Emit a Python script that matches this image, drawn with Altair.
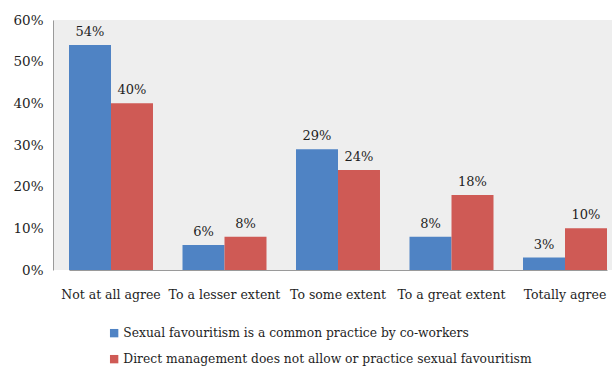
import altair as alt
import pandas as pd

categories = ["Not at all agree", "To a lesser extent", "To some extent", "To a great extent", "Totally agree"]
series = ["Sexual favouritism is a common practice by co-workers",
          "Direct management does not allow or practice sexual favouritism"]
values_a = [0.54, 0.06, 0.29, 0.08, 0.03]
values_b = [0.40, 0.08, 0.24, 0.18, 0.10]
colors = ["#4f83c4", "#cf5a55"]

rows = []
for c, a, b in zip(categories, values_a, values_b):
    rows.append({"cat": c, "series": series[0], "v": a})
    rows.append({"cat": c, "series": series[1], "v": b})
df = pd.DataFrame(rows)

FONT = "DejaVu Serif"
TXT = "#1e1e1e"

x = alt.X("cat:N", sort=categories, title=None,
          scale=alt.Scale(range=[16, 554], paddingInner=0.26, paddingOuter=0),
          axis=alt.Axis(labelAngle=0, ticks=False, labelPadding=18, domainColor="#9a9a9a",
                        labelFont=FONT, labelFontSize=12.5, labelColor=TXT))
y = alt.Y("v:Q", title=None,
          scale=alt.Scale(domain=[0, 0.6]),
          axis=alt.Axis(format=".0%", values=[0, 0.1, 0.2, 0.3, 0.4, 0.5, 0.6], grid=False, ticks=False,
                        labelPadding=10, domainColor="#9a9a9a",
                        labelFont=FONT, labelFontSize=13.5, labelColor=TXT))
xo = alt.XOffset("series:N", sort=series)
color = alt.Color("series:N", sort=series, title=None,
                  scale=alt.Scale(domain=series, range=colors),
                  legend=alt.Legend(orient="none", legendX=55, legendY=307, direction="vertical",
                                    symbolType="square", symbolSize=70, symbolStrokeWidth=0,
                                    labelFont=FONT, labelFontSize=12.3, labelColor=TXT,
                                    rowPadding=13, labelLimit=600, symbolOffset=0, labelOffset=3))

bars = alt.Chart(df).mark_bar().encode(x=x, y=y, xOffset=xo, color=color)
labels = alt.Chart(df).mark_text(baseline="bottom", dy=-6, font=FONT, fontSize=13,
                                  color=TXT).encode(
    x=x, y=y, xOffset=xo, text=alt.Text("v:Q", format=".0%"))

chart = (bars + labels).properties(
    width=559, height=250,
    autosize=alt.AutoSizeParams(type="none"),
    padding={"left": 53, "top": 20, "right": 2, "bottom": 96},
    background="white",
).configure_view(fill="#eeeeee", stroke=None)

chart.save("out.html", embed_options={"renderer": "svg", "actions": False})
